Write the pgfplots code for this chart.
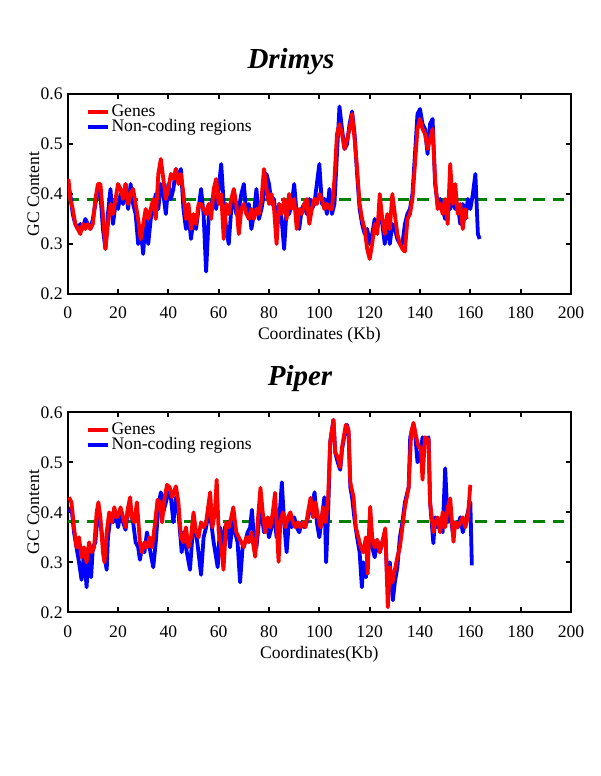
\documentclass[border=0pt]{standalone}
\usepackage{fontspec}
\setmainfont{Liberation Serif}
\usepackage{pgfplots}
\pgfplotsset{compat=1.18}
\usepackage{pgfplotstable}
\definecolor{gcred}{rgb}{1,0,0}
\definecolor{gcblue}{rgb}{0,0,1}
\definecolor{gcgreen}{rgb}{0,0.5,0}

\pgfplotstableread{
x y
0.5 0.41
1 0.40
2 0.36
3 0.34
4 0.33
5 0.34
6 0.33
7 0.35
8 0.34
9 0.33
10 0.35
11 0.38
12 0.41
13 0.40
14 0.33
15 0.29
16 0.36
17 0.41
18 0.34
19 0.38
20 0.37
21 0.40
22 0.38
23 0.42
24 0.37
25 0.42
26 0.38
27 0.36
28 0.30
29 0.33
30 0.28
31 0.36
32 0.30
33 0.35
34 0.37
35 0.40
36 0.37
37 0.42
38 0.40
39 0.36
40 0.42
41 0.39
42 0.41
43 0.45
44 0.43
45 0.45
46 0.37
47 0.33
48 0.36
49 0.31
50 0.35
51 0.33
52 0.37
53 0.41
54 0.36
55 0.245
56 0.35
57 0.38
58 0.40
59 0.37
60 0.41
61 0.46
62 0.38
63 0.33
64 0.30
65 0.37
66 0.39
67 0.36
68 0.37
69 0.40
70 0.42
71 0.36
72 0.38
73 0.33
74 0.36
75 0.41
76 0.35
77 0.37
78 0.40
79 0.44
80 0.42
81 0.38
82 0.39
83 0.33
84 0.38
85 0.35
86 0.29
87 0.37
88 0.36
89 0.38
90 0.42
91 0.36
92 0.33
93 0.37
94 0.38
95 0.36
96 0.39
97 0.37
98 0.38
99 0.42
100 0.46
101 0.38
102 0.39
103 0.36
104 0.41
105 0.36
106 0.38
107 0.48
108 0.575
109 0.53
110 0.49
111 0.50
112 0.54
113 0.565
114 0.52
115 0.44
116 0.37
117 0.34
118 0.32
119 0.33
120 0.30
121 0.32
122 0.35
123 0.33
124 0.36
125 0.34
126 0.30
127 0.35
128 0.30
129 0.34
130 0.33
131 0.31
132 0.30
133 0.30
134 0.34
135 0.36
136 0.37
137 0.40
138 0.48
139 0.56
140 0.57
141 0.54
142 0.53
143 0.48
144 0.54
145 0.55
146 0.42
147 0.38
148 0.39
149 0.37
150 0.35
151 0.38
152 0.37
153 0.39
154 0.37
155 0.38
156 0.34
157 0.38
158 0.35
159 0.39
160 0.37
161 0.40
162 0.44
163 0.32
163.7 0.31
}\drimysnc

\pgfplotstableread{
x y
0.3 0.43
1 0.39
2 0.37
3 0.34
4 0.33
5 0.32
6 0.34
7 0.33
8 0.34
9 0.33
10 0.34
11 0.39
12 0.42
13 0.42
14 0.36
15 0.29
16 0.34
17 0.38
18 0.36
19 0.39
20 0.42
21 0.41
22 0.39
23 0.42
24 0.38
25 0.40
26 0.41
27 0.38
28 0.35
29 0.31
30 0.34
31 0.37
32 0.35
33 0.37
34 0.39
35 0.35
36 0.44
37 0.47
38 0.43
39 0.39
40 0.41
41 0.44
42 0.43
43 0.45
44 0.42
45 0.44
46 0.40
47 0.35
48 0.38
49 0.33
50 0.36
51 0.34
52 0.38
53 0.38
54 0.37
55 0.36
56 0.38
57 0.35
58 0.41
59 0.43
60 0.38
61 0.40
62 0.31
63 0.38
64 0.36
65 0.39
66 0.41
67 0.38
68 0.32
69 0.37
70 0.38
71 0.36
72 0.35
73 0.37
74 0.35
75 0.37
76 0.36
77 0.39
78 0.45
79 0.41
80 0.38
81 0.40
82 0.37
83 0.30
84 0.38
85 0.36
86 0.39
87 0.35
88 0.40
89 0.37
90 0.39
91 0.33
92 0.37
93 0.36
94 0.38
95 0.39
96 0.34
97 0.37
98 0.39
99 0.38
100 0.40
101 0.39
102 0.37
103 0.38
104 0.37
105 0.37
106 0.43
107 0.52
108 0.54
109 0.52
110 0.49
111 0.51
112 0.53
113 0.56
114 0.51
115 0.45
116 0.38
117 0.35
118 0.33
119 0.29
120 0.27
121 0.30
122 0.34
123 0.32
124 0.40
125 0.35
126 0.32
127 0.36
128 0.33
129 0.40
130 0.36
131 0.32
132 0.30
133 0.29
134 0.285
135 0.35
136 0.36
137 0.39
138 0.46
139 0.53
140 0.55
141 0.53
142 0.52
143 0.49
144 0.51
145 0.53
146 0.43
147 0.37
148 0.38
149 0.36
150 0.39
151 0.34
152 0.46
153 0.38
154 0.42
155 0.36
156 0.38
157 0.33
158 0.37
158.5 0.35
}\drimysgenes

\pgfplotstableread{
x y
0.5 0.40
1.5 0.41
2.5 0.36
3.5 0.33
4.5 0.30
5.5 0.265
6.5 0.32
7.5 0.25
8.5 0.33
9.3 0.27
10 0.33
11 0.34
12 0.40
13 0.38
14 0.34
15 0.30
15.5 0.285
16 0.35
17 0.39
18 0.38
19 0.40
20 0.37
21 0.40
22 0.38
23 0.365
24 0.41
25 0.40
26 0.38
27 0.34
28 0.33
28.7 0.305
29.5 0.33
30.5 0.32
31.5 0.36
32.5 0.33
34 0.29
35 0.34
36 0.41
37 0.44
38 0.40
39 0.42
40 0.44
41 0.43
42 0.38
43 0.43
44 0.40
45.3 0.32
46 0.36
47 0.33
48.6 0.285
49.5 0.35
50.5 0.37
51.5 0.34
53 0.275
54 0.35
55 0.37
56 0.40
57 0.38
58 0.34
59.6 0.29
60.5 0.37
61.5 0.33
62.5 0.37
63.5 0.38
64.5 0.33
65.5 0.38
66.5 0.36
67.5 0.34
68.5 0.26
69.5 0.33
70.5 0.34
71.5 0.36
72.5 0.37
73.2 0.405
74 0.35
75 0.33
76 0.38
77 0.40
78 0.36
79 0.38
80 0.35
81 0.37
82 0.40
83 0.35
84 0.38
85.1 0.46
86 0.38
87 0.32
88 0.39
89 0.37
90 0.39
91 0.37
92 0.36
93 0.38
94 0.37
95 0.38
96 0.40
97 0.41
98.1 0.44
99 0.38
100 0.35
101 0.39
102 0.43
102.7 0.30
103.5 0.40
104.3 0.54
105.6 0.585
106.3 0.52
107.3 0.50
108.3 0.485
109 0.525
110 0.555
111 0.575
111.6 0.56
112.3 0.45
113 0.43
114 0.385
115 0.35
116 0.32
116.9 0.25
117.5 0.30
118.5 0.27
119.2 0.30
120.2 0.40
121 0.33
122 0.31
123 0.345
124 0.32
125 0.34
126.2 0.36
127 0.26
128 0.30
129.2 0.224
130 0.26
131 0.29
132 0.35
133 0.38
134 0.42
135.5 0.45
136.1 0.55
137.4 0.575
138 0.56
139 0.50
140 0.51
141 0.55
142 0.54
143.4 0.55
144 0.42
145.3 0.338
146 0.39
147 0.37
148 0.38
149 0.36
150 0.488
151 0.38
152 0.40
153 0.36
154 0.38
155 0.37
156 0.39
157 0.36
158 0.38
159 0.40
160 0.42
160.6 0.294
}\pipernc

\pgfplotstableread{
x y
0.5 0.43
1.5 0.42
2.5 0.37
3.5 0.33
4.5 0.35
5.5 0.31
6.5 0.33
7.5 0.30
8.5 0.34
9.5 0.32
10.5 0.33
11.5 0.40
12.2 0.42
13 0.39
14 0.32
14.6 0.30
15.5 0.36
16.5 0.40
17.5 0.38
18.5 0.41
19.5 0.39
20.5 0.40
21 0.41
22 0.39
23 0.37
24 0.41
24.8 0.43
25.5 0.39
26.5 0.38
27.5 0.42
28.7 0.34
29.5 0.32
30.5 0.34
31.5 0.33
32.5 0.35
33.5 0.33
34.5 0.37
35.7 0.425
36.5 0.42
37.5 0.38
38.5 0.43
39.5 0.455
40.5 0.45
41.5 0.43
43 0.452
44 0.42
45 0.35
46 0.34
47 0.37
48 0.33
49 0.35
50 0.40
51 0.36
52 0.35
53 0.38
54 0.37
55 0.38
56.6 0.44
57.5 0.37
58.5 0.40
59.2 0.465
60 0.36
61 0.33
61.9 0.285
63 0.38
64 0.37
65 0.39
65.8 0.41
67 0.36
68 0.35
69 0.34
70 0.33
71 0.35
72 0.34
73 0.36
74.5 0.311
75.5 0.38
76.6 0.449
77.5 0.40
78.5 0.36
79.5 0.39
80.5 0.37
81.5 0.40
82.4 0.439
83.8 0.301
84.5 0.38
85.5 0.40
86.5 0.37
87.5 0.39
88.5 0.40
89.5 0.38
90.5 0.37
91.5 0.38
92.5 0.37
93.5 0.38
94.5 0.37
95.5 0.40
96.5 0.429
97.5 0.39
98.5 0.42
99.5 0.39
100.5 0.37
101.5 0.41
102.5 0.38
103.5 0.43
104.3 0.54
105.6 0.585
106.3 0.52
107.3 0.51
108.3 0.49
109 0.53
110.5 0.575
111.6 0.565
112.3 0.46
113.6 0.43
114.5 0.37
115.5 0.35
116.5 0.33
117.5 0.32
118.5 0.35
119.2 0.277
120.2 0.411
121 0.35
122 0.33
123 0.345
124 0.32
125 0.34
126.2 0.368
127.2 0.21
128 0.29
129 0.26
130 0.285
131 0.31
132 0.33
133 0.37
134 0.41
135.5 0.45
136.5 0.56
137.4 0.579
138.5 0.55
139.5 0.53
140.3 0.53
141 0.465
142 0.55
143.4 0.545
144 0.42
145.3 0.36
146 0.38
147 0.39
148 0.36
149 0.40
150 0.37
151 0.41
152 0.428
153.3 0.341
154 0.38
155 0.37
156 0.38
157 0.39
158 0.37
159 0.39
160 0.455
}\pipergenes

\pgfplotsset{
  gcaxis/.style={
    scale only axis, width=251.65pt, height=100pt,
    xmin=0, xmax=200, ymin=0.2, ymax=0.6,
    xtick={0,20,...,200}, ytick={0.2,0.3,0.4,0.5,0.6},
    tick pos=both, tick align=inside,
    major tick length=2.5pt,
    every tick/.style={black, line width=0.9pt},
    axis line style={line width=1.1pt},
    font=\fontsize{8.8}{10}\selectfont,
    /pgf/number format/assume math mode=true,
    yticklabel style={/pgf/number format/fixed, /pgf/number format/precision=1, xshift=1pt},
    xticklabel style={yshift=-3pt},
    ylabel={GC Content},
    ylabel style={at={(axis description cs:-0.068,0.5)}, anchor=center},
    xlabel style={at={(axis description cs:0.5,-0.23)}, anchor=base},
    legend style={draw=none, fill=none, at={(axis description cs:0.035,0.96)}, anchor=north west,
      font=\fontsize{8.8}{10}\selectfont, row sep=-2pt, inner sep=0pt, nodes={inner sep=1pt}},
    legend cell align=left,
    reverse legend,
    legend image code/.code={\draw[#1] (0pt,0pt) -- (10pt,0pt);},
    title style={font=\fontsize{14.5}{16}\selectfont\bfseries\itshape, anchor=base},
  },
  gcline/.style={line width=1.9pt, line join=round},
}

\begin{document}
\begin{tikzpicture}
\useasboundingbox (0,0) rectangle (300pt,388pt);
\begin{axis}[gcaxis, at={(33.85pt,241pt)}, anchor=south west,
  title={Drimys}, title style={at={(axis description cs:0.4437,1)}, yshift=6.5pt},
  xlabel={Coordinates (Kb)}]
\addplot[gcgreen, line width=1.5pt, dash pattern=on 5.8pt off 3.9pt, forget plot] coordinates {(0,0.389) (200,0.389)};
\addplot[gcblue, gcline] table {\drimysnc};
\addlegendentry{Non-coding regions}
\addplot[gcred, gcline] table {\drimysgenes};
\addlegendentry{Genes}
\end{axis}
\begin{axis}[gcaxis, at={(33.85pt,81.85pt)}, anchor=south west,
  title={Piper}, title style={at={(axis description cs:0.4616,1)}, yshift=7.5pt},
  xlabel={Coordinates(Kb)}]
\addplot[gcgreen, line width=1.5pt, dash pattern=on 5.8pt off 3.9pt, forget plot] coordinates {(0,0.382) (200,0.382)};
\addplot[gcblue, gcline] table {\pipernc};
\addlegendentry{Non-coding regions}
\addplot[gcred, gcline] table {\pipergenes};
\addlegendentry{Genes}
\end{axis}
\end{tikzpicture}
\end{document}
